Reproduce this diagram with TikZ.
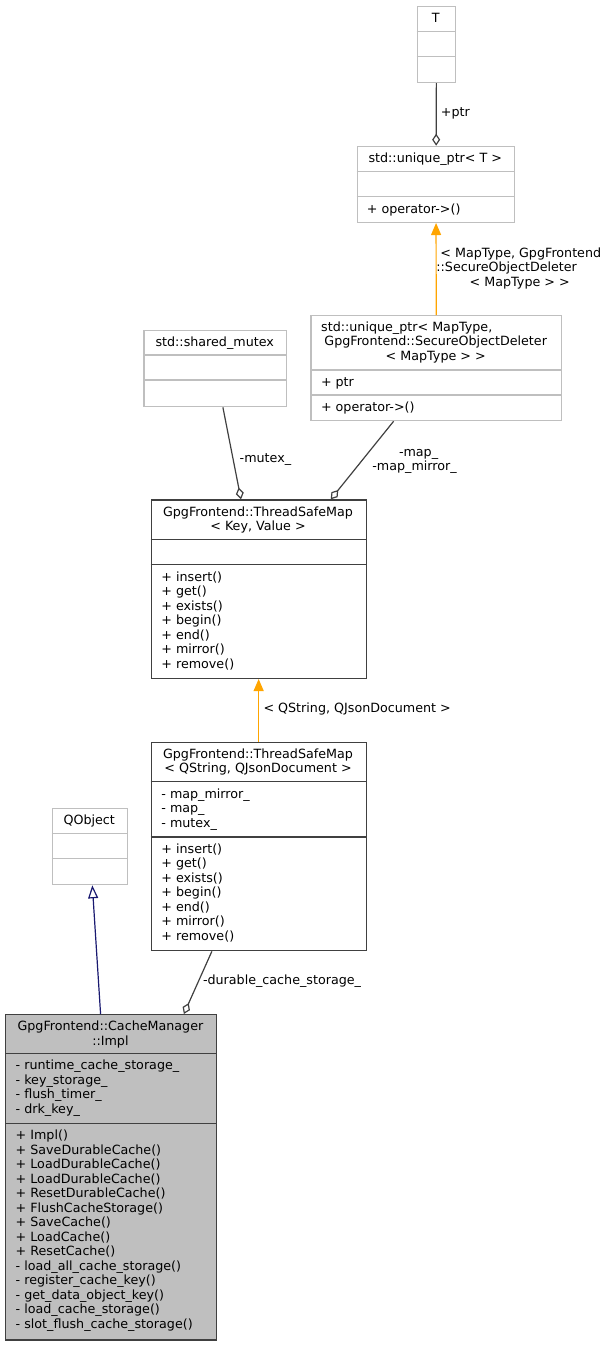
\documentclass[tikz,border=0pt]{standalone}
\usepackage{fontspec}
\setmainfont{DejaVu Sans}
\usepackage{tikz}
\usetikzlibrary{arrows.meta}
\definecolor{edgegray}{RGB}{64,64,64}
\definecolor{boxgray}{RGB}{191,191,191}
\definecolor{tmplorange}{RGB}{255,165,0}
\definecolor{midnight}{RGB}{25,25,112}

\begin{document}
\begin{tikzpicture}[x=1pt,y=-1pt,
  every node/.style={font=\fontsize{12.7}{14.5}\selectfont,inner sep=0pt},
  gbox/.style={draw=boxgray,line width=1.3pt,anchor=north west},
  kbox/.style={gbox,draw=edgegray},
  gsep/.style={boxgray,line width=1.3pt},
  ksep/.style={edgegray,line width=1.3pt},
  txt/.style={anchor=base west},
  ttl/.style={anchor=base},
  agg/.style={draw=edgegray,line width=1.2pt,-{Diamond[open,length=12pt,width=8pt]}},
  tmpl/.style={draw=tmplorange,line width=1.2pt,-{Triangle[length=12pt,width=10pt]}},
  inh/.style={draw=midnight,line width=1.2pt,-{Triangle[open,length=13pt,width=10pt,fill=white]}}]
                      \useasboundingbox (0,0) rectangle (611,1345);
                      \node[gbox,minimum width=38.3pt,minimum height=76pt](t)at(416.7,5.7){};
                      \foreach \y in {31.7,56.7} \draw[gsep](416.7,\y)--(455,\y);
                      \node[ttl](tname)at(435.8,22.4){T};
                      \node[gbox,minimum width=157.3pt,minimum height=76pt](uptrT)at(356.7,145.7){};
                      \foreach \y in {171.7,196.7} \draw[gsep](356.7,\y)--(514,\y);
                      \node[ttl](uptrTname)at(435.3,162.4){std::unique\_ptr< T >};
                      \node[txt](uptrTop)at(366.7,213){+ operator->()};
                      \node[gbox,minimum width=250.7pt,minimum height=105pt](uptrMap)at(310.3,315){};
                      \foreach \y in {370,395} \draw[gsep](310.3,\y)--(561,\y);
                      \node[txt](uptrMapa)at(321,331){std::unique\_ptr< MapType,};
                      \node[ttl](uptrMapb)at(435.7,345.5){GpgFrontend::SecureObjectDeleter};
                      \node[ttl](uptrMapc)at(435.7,360){< MapType > >};
                      \node[txt](uptrMapptr)at(320.8,386.3){+ ptr};
                      \node[txt](uptrMapop)at(320.8,411.3){+ operator->()};
                      \node[gbox,minimum width=142.7pt,minimum height=76pt](mutex)at(143.3,330){};
                      \foreach \y in {355,380} \draw[gsep](143.3,\y)--(286,\y);
                      \node[ttl](mutexname)at(214.7,346.7){std::shared\_mutex};
                      \node[kbox,minimum width=215pt,minimum height=178.4pt](kv)at(150.5,499.3){};
                      \foreach \y in {539.3,564.7} \draw[ksep](150.5,\y)--(365.5,\y);
                      \node[ttl](kvname)at(258,516){GpgFrontend::ThreadSafeMap};
                      \node[ttl](kvargs)at(258,530.5){< Key, Value >};
                      \foreach \m [count=\i from 0] in {+ insert(),+ get(),+ exists(),+ begin(),+ end(),+ mirror(),+ remove()}
                        \node[txt](kvm\i)at(161.2,581+14.5*\i){\m};
                      \node[kbox,minimum width=215pt,minimum height=208.3pt](qs)at(150.5,741.7){};
                      \foreach \y in {781.7,837} \draw[ksep](150.5,\y)--(365.5,\y);
                      \node[ttl](qsname)at(258,758.4){GpgFrontend::ThreadSafeMap};
                      \node[ttl](qsargs)at(258,772.9){< QString, QJsonDocument >};
                      \foreach \a [count=\i from 0] in {- map\_mirror\_,- map\_,- mutex\_}
                        \node[txt](qsa\i)at(161.2,798+14.5*\i){\a};
                      \foreach \m [count=\i from 0] in {+ insert(),+ get(),+ exists(),+ begin(),+ end(),+ mirror(),+ remove()}
                        \node[txt](qsm\i)at(161.2,853.3+14.5*\i){\m};
                      \node[gbox,minimum width=75pt,minimum height=76.3pt](qobj)at(51.7,807.7){};
                      \foreach \y in {833.3,858.3} \draw[gsep](51.7,\y)--(126.7,\y);
                      \node[ttl](qobjname)at(89.2,824.4){QObject};
                      \node[kbox,fill=boxgray,minimum width=210.7pt,minimum height=325.3pt](impl)at(5,1014){};
                      \foreach \y in {1053.3,1123.3} \draw[ksep](5,\y)--(215.7,\y);
                      \node[ttl](implname)at(110.4,1030.7){GpgFrontend::CacheManager};
                      \node[ttl](implsub)at(110.4,1045.2){::Impl};
                      \foreach \a [count=\i from 0] in {- runtime\_cache\_storage\_,- key\_storage\_,- flush\_timer\_,- drk\_key\_}
                        \node[txt](impla\i)at(15.5,1069.6+14.5*\i){\a};
                      \foreach \m [count=\i from 0] in {+ Impl(),+ SaveDurableCache(),+ LoadDurableCache(),+ LoadDurableCache(),+ ResetDurableCache(),+ FlushCacheStorage(),+ SaveCache(),+ LoadCache(),+ ResetCache(),- load\_all\_cache\_storage(),- register\_cache\_key(),- get\_data\_object\_key(),- load\_cache\_storage(),- slot\_flush\_cache\_storage()}
                        \node[txt](implm\i)at(15.5,1139.6+14.5*\i){\m};
                      \draw[agg](t)--(uptrT);
                      \draw[tmpl](uptrMap)--(uptrT);
                      \draw[agg](mutex)--(kv);
                      \draw[agg](uptrMap)--(kv);
                      \draw[tmpl](qs)--(kv);
                      \draw[agg](qs)--(impl);
                      \draw[inh](impl)--(qobj);
                      \node[txt](lptr)at(440.7,116.5){+ptr};
                      \node[txt](ldela)at(440.2,257.3){< MapType, GpgFrontend};
                      \node[txt](ldelb)at(436.2,271.7){::SecureObjectDeleter};
                      \node[txt](ldelc)at(469.5,286.7){< MapType > >};
                      \node[txt](lmutex)at(239.5,462.5){-mutex\_};
                      \node[txt](lmap)at(398.8,456.5){-map\_};
                      \node[txt](lmirror)at(372.2,470.7){-map\_mirror\_};
                      \node[txt](lqs)at(263.3,712.5){< QString, QJsonDocument >};
                      \node[txt](ldurable)at(202.8,984.5){-durable\_cache\_storage\_};
                  \end{tikzpicture}
\end{document}
